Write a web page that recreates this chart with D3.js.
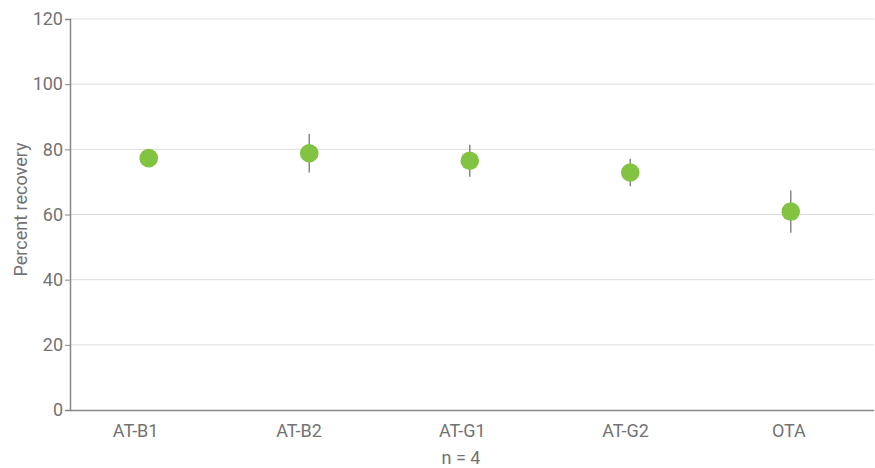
<!DOCTYPE html>
<html>
<head>
<meta charset="utf-8">
<script src="https://cdn.jsdelivr.net/npm/d3@7"></script>
<style>
  html, body { margin: 0; padding: 0; background: #fff; }
  svg { display: block; font-family: Roboto, "Noto Sans", sans-serif; }
</style>
</head>
<body>
<svg id="chart" width="875" height="468"></svg>
<script>
const categories = ["AT-B1", "AT-B2", "AT-G1", "AT-G2", "OTA"];
const meanValues = [77.3, 78.8, 76.5, 72.9, 60.9];
const errorValues = [2.0, 5.9, 4.9, 4.2, 6.5];
const yTicks = [0, 20, 40, 60, 80, 100, 120];
const yLabel = "Percent recovery";
const xLabel = "n = 4";

(function () {
const svg = d3.select("#chart");
const plotLeft = 70, plotRight = 874, plotTop = 19, plotBottom = 410;
const textColor = "#737373";
const fs = "18px";

const y = d3.scaleLinear().domain([0, 120]).range([plotBottom, plotTop]);
const xDots = d3.scalePoint().domain(categories).range([68.5, 871]).padding(0.5);
const xLabels = d3.scalePoint().domain(categories).range([53.5, 870]).padding(0.5);

// gridlines
svg.append("g")
  .selectAll("line")
  .data(yTicks.filter(d => d > 0))
  .join("line")
  .attr("x1", plotLeft).attr("x2", plotRight)
  .attr("y1", d => y(d)).attr("y2", d => y(d))
  .attr("stroke", "#dddddd").attr("stroke-width", 1);

// y axis
const yAxis = svg.append("g")
  .attr("transform", `translate(${plotLeft},0)`)
  .call(d3.axisLeft(y).tickValues(yTicks).tickSize(5).tickPadding(2));
yAxis.select(".domain").attr("stroke", "#888").attr("stroke-width", 1.5);
yAxis.selectAll(".tick line").attr("stroke", "#888");
yAxis.selectAll(".tick text").attr("fill", textColor).style("font-size", fs).style("font-family", "Roboto");

// x axis
const xAxis = svg.append("g")
  .attr("transform", `translate(0,${plotBottom})`)
  .call(d3.axisBottom(xLabels).tickSize(0).tickPadding(14));
xAxis.select(".domain").attr("d", `M${plotLeft},0.5H${plotRight}`).attr("stroke", "#888").attr("stroke-width", 1.5);
xAxis.selectAll(".tick text").attr("fill", textColor).style("font-size", fs).style("font-family", "Roboto");

// axis titles
svg.append("text")
  .attr("transform", `translate(27,${(plotTop + plotBottom) / 2 - 5}) rotate(-90)`)
  .attr("text-anchor", "middle")
  .attr("fill", textColor)
  .style("font-size", fs)
  .text(yLabel);

svg.append("text")
  .attr("x", 461).attr("y", 464)
  .attr("text-anchor", "middle")
  .attr("fill", textColor)
  .style("font-size", fs)
  .text(xLabel);

// error bars
const data = categories.map((c, i) => ({ c, v: meanValues[i], e: errorValues[i] }));
svg.append("g")
  .selectAll("line")
  .data(data)
  .join("line")
  .attr("x1", d => xDots(d.c)).attr("x2", d => xDots(d.c))
  .attr("y1", d => y(d.v + d.e)).attr("y2", d => y(d.v - d.e))
  .attr("stroke", "#888").attr("stroke-width", 1.5);

// points
svg.append("g")
  .selectAll("circle")
  .data(data)
  .join("circle")
  .attr("cx", d => xDots(d.c))
  .attr("cy", d => y(d.v))
  .attr("r", 9.3)
  .attr("fill", "#82c341");
})();
</script>
</body>
</html>
